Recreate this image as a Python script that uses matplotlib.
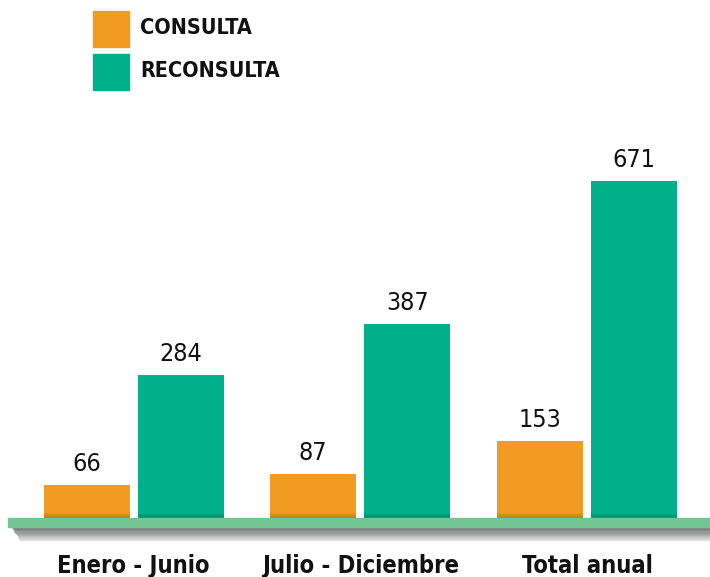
import matplotlib.pyplot as plt
from matplotlib.patches import Rectangle

categories = ["Enero - Junio", "Julio - Diciembre", "Total anual"]
consulta = [66, 87, 153]
reconsulta = [284, 387, 671]

ORANGE = "#F09C22"
GREEN = "#00B08A"
BASE = "#72C693"

W, H = 710, 577
fig = plt.figure(figsize=(W / 100, H / 100), dpi=100)

def fx(px):
    return px / W

def fy(py):
    return 1 - py / H

TXT = dict(family="DejaVu Sans", fontstretch="condensed", color="#111111")

# axes bottom sits on the baseline (y=518 px), top at y=100 px
ax = fig.add_axes([0, fy(518), 1, (518 - 100) / H])
ax.set_xlim(-133.5 / 226.75, (W - 133.5) / 226.75)
ax.set_ylim(0, 418 / 0.502)
ax.axis("off")

off = 47 / 226.75
bw = 86 / 226.75
for i in range(len(categories)):
    for x, v, c in [(i - off, consulta[i], ORANGE), (i + off, reconsulta[i], GREEN)]:
        ax.bar(x, v, width=bw, color=c, zorder=2)
        # slight darkening at the foot of each bar
        for k in range(5):
            ax.bar(x, (5 - k) * 2, width=bw, color="black", alpha=0.04, zorder=3)
        ax.text(x, v + 18, str(v), ha="center", va="bottom", fontsize=18, **TXT)
    fig.text(fx(133.5 + 226.75 * i), fy(566), categories[i], ha="center", va="center",
             fontsize=17, fontweight="bold", **TXT)

# shadow under the baseline
for k in range(12):
    fig.patches.append(Rectangle((fx(12 + k * 0.8), fy(528 + k * 1.2)), fx(W), 1.4 / H,
                                 transform=fig.transFigure, color="#444444",
                                 alpha=0.32 * (1 - k / 12), zorder=1))
fig.patches.append(Rectangle((fx(8), fy(527)), fx(W - 8), 9 / H,
                             transform=fig.transFigure, color=BASE, zorder=3))

# legend
for j, (lab, c) in enumerate([("CONSULTA", ORANGE), ("RECONSULTA", GREEN)]):
    top = 11 + j * 43
    fig.patches.append(Rectangle((fx(93), fy(top + 36)), fx(36), 36 / H,
                                 transform=fig.transFigure, color=c))
    fig.text(fx(140), fy(top + 17), lab, ha="left", va="center", fontsize=15.5,
             fontweight="bold", **TXT)

fig.savefig("out.png", dpi=100)
